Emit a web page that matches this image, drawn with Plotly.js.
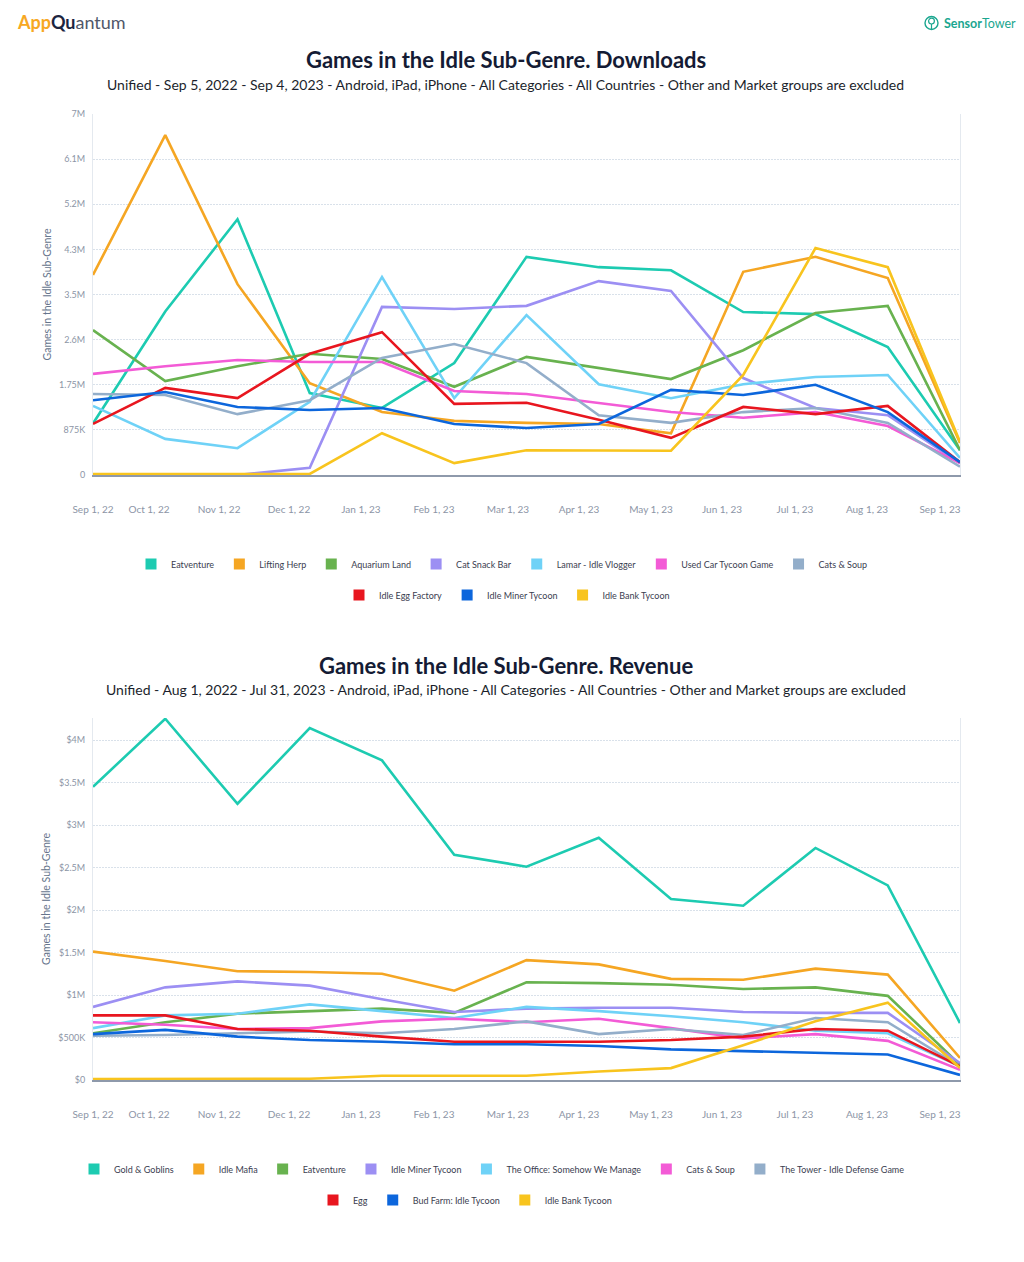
<!DOCTYPE html>
<html>
<head>
<meta charset="utf-8">
<script src="https://cdn.plot.ly/plotly-3.0.1.min.js"></script>
<style>
  html, body { margin: 0; padding: 0; background: #ffffff; }
  #chart { width: 1024px; height: 1262px; }
</style>
</head>
<body>
<div id="chart"></div>
<script>
// ---------- DATA ----------
const dateLabels = ['Sep 1, 22','Oct 1, 22','Nov 1, 22','Dec 1, 22','Jan 1, 23','Feb 1, 23','Mar 1, 23','Apr 1, 23','May 1, 23','Jun 1, 23','Jul 1, 23','Aug 1, 23','Sep 1, 23'];
const pointIndex = [0,1,2,3,4,5,6,7,8,9,10,11,12];

// Downloads (millions)
const dlNames = ['Eatventure','Lifting Herp','Aquarium Land','Cat Snack Bar','Lamar - Idle Vlogger','Used Car Tycoon Game','Cats & Soup','Idle Egg Factory','Idle Miner Tycoon','Idle Bank Tycoon'];
const dlEatventure   = [1.00, 3.17, 4.96, 1.59, 1.30, 2.17, 4.23, 4.03, 3.97, 3.16, 3.12, 2.48, 0.48];
const dlLiftingHerp  = [3.88, 6.59, 3.70, 1.78, 1.22, 1.05, 1.01, 0.99, 0.81, 3.94, 4.23, 3.82, 0.62];
const dlAquarium     = [2.81, 1.82, 2.11, 2.35, 2.25, 1.71, 2.29, 2.07, 1.86, 2.42, 3.14, 3.28, 0.48];
const dlCatSnack     = [0.00, 0.00, 0.00, 0.14, 3.26, 3.22, 3.28, 3.76, 3.57, 1.88, 1.30, 1.16, 0.23];
const dlLamar        = [1.34, 0.70, 0.52, 1.42, 3.84, 1.49, 3.10, 1.76, 1.49, 1.76, 1.90, 1.94, 0.33];
const dlUsedCar      = [1.96, 2.11, 2.23, 2.19, 2.19, 1.63, 1.57, 1.40, 1.22, 1.11, 1.22, 0.95, 0.23];
const dlCatsSoup     = [1.57, 1.55, 1.18, 1.45, 2.27, 2.54, 2.17, 1.16, 1.01, 1.22, 1.30, 1.01, 0.16];
const dlEggFactory   = [0.99, 1.69, 1.49, 2.35, 2.77, 1.38, 1.40, 1.07, 0.72, 1.32, 1.18, 1.34, 0.25];
const dlIdleMiner    = [1.45, 1.61, 1.32, 1.26, 1.30, 0.99, 0.91, 0.99, 1.65, 1.55, 1.75, 1.22, 0.25];
const dlIdleBank     = [0.02, 0.02, 0.02, 0.02, 0.81, 0.23, 0.48, 0.47, 0.47, 1.94, 4.40, 4.03, 0.64];
const dlSeries = [dlEatventure, dlLiftingHerp, dlAquarium, dlCatSnack, dlLamar, dlUsedCar, dlCatsSoup, dlEggFactory, dlIdleMiner, dlIdleBank];
const dlTickText = ['0','875K','1.75M','2.6M','3.5M','4.3M','5.2M','6.1M','7M'];

// Revenue (millions USD)
const revNames = ['Gold & Goblins','Idle Mafia','Eatventure','Idle Miner Tycoon','The Office: Somehow We Manage','Cats & Soup','The Tower - Idle Defense Game','Egg','Bud Farm: Idle Tycoon','Idle Bank Tycoon'];
const revGoldGoblins = [3.45, 4.25, 3.25, 4.14, 3.76, 2.65, 2.51, 2.85, 2.13, 2.05, 2.73, 2.29, 0.67];
const revIdleMafia   = [1.51, 1.40, 1.28, 1.27, 1.25, 1.05, 1.41, 1.36, 1.19, 1.18, 1.31, 1.24, 0.26];
const revEatventure  = [0.55, 0.68, 0.78, 0.81, 0.84, 0.79, 1.15, 1.14, 1.12, 1.07, 1.09, 0.99, 0.18];
const revIdleMiner   = [0.86, 1.09, 1.16, 1.11, 0.95, 0.80, 0.84, 0.85, 0.85, 0.80, 0.79, 0.79, 0.20];
const revTheOffice   = [0.61, 0.76, 0.78, 0.89, 0.81, 0.73, 0.86, 0.81, 0.75, 0.68, 0.58, 0.55, 0.16];
const revCatsSoup    = [0.68, 0.65, 0.60, 0.61, 0.69, 0.72, 0.68, 0.72, 0.61, 0.49, 0.54, 0.46, 0.12];
const revTheTower    = [0.52, 0.53, 0.55, 0.57, 0.55, 0.60, 0.69, 0.54, 0.60, 0.53, 0.73, 0.68, 0.16];
const revEgg         = [0.76, 0.76, 0.60, 0.58, 0.51, 0.45, 0.45, 0.45, 0.47, 0.51, 0.60, 0.58, 0.16];
const revBudFarm     = [0.54, 0.59, 0.51, 0.47, 0.45, 0.42, 0.42, 0.40, 0.36, 0.34, 0.32, 0.30, 0.06];
const revIdleBank    = [0.01, 0.01, 0.01, 0.015, 0.05, 0.05, 0.05, 0.10, 0.14, 0.41, 0.69, 0.91, 0.14];
const revSeries = [revGoldGoblins, revIdleMafia, revEatventure, revIdleMiner, revTheOffice, revCatsSoup, revTheTower, revEgg, revBudFarm, revIdleBank];
const revTickText = ['$0','$500K','$1M','$1.5M','$2M','$2.5M','$3M','$3.5M','$4M'];

// ---------- STYLE ----------
const palette = ['#1dcbb1','#f5a623','#68b24f','#9c8ff3','#6fd2f7','#f35bd6','#93aeca','#e8161f','#0c66dc','#f8c41e'];
const FONT = 'Lato, "Open Sans", sans-serif';
const W = 1024, H = 1262, ML = 93, MR = 64;
const PX = px => (px - ML) / (W - ML - MR);
const PY = py => 1 - py / H;
const tickPos = [0, 0.775, 1.745, 2.713, 3.709, 4.72, 5.744, 6.727, 7.723, 8.706, 9.716, 10.713, 11.723];

const traces = [];
function addChart(names, series, xa, ya, legRow1, legRow2) {
  series.forEach((vals, i) => {
    traces.push({
      type: 'scatter', mode: 'lines', x: pointIndex, y: vals.map(v => v * 1e6),
      xaxis: xa, yaxis: ya, name: names[i], showlegend: false, hoverinfo: 'skip',
      line: { color: palette[i], width: 2.6, shape: 'linear' }
    });
  });
  names.forEach((n, i) => {
    traces.push({
      type: 'scatter', mode: 'markers', x: [null], y: [null], xaxis: xa, yaxis: ya,
      name: n, legend: i < 7 ? legRow1 : legRow2, showlegend: true, hoverinfo: 'skip',
      marker: { symbol: 'square', size: 11, color: palette[i], line: { width: 0 } }
    });
  });
}
addChart(dlNames, dlSeries, 'x', 'y', 'legend', 'legend2');
addChart(revNames, revSeries, 'x2', 'y2', 'legend3', 'legend4');

const tickFont = { family: FONT, size: 9, color: '#8c95a6' };
function xAxis(anchor) {
  return {
    anchor: anchor, domain: [0, 1], range: [0, 12], tickmode: 'array', tickvals: tickPos, ticktext: dateLabels,
    showgrid: false, zeroline: false, showline: true, linecolor: '#8e99ab', linewidth: 1.5,
    ticks: '', ticklabelstandoff: 24, tickfont: { family: FONT, size: 10, color: '#8c95a6' }, fixedrange: true
  };
}
function yAxis(anchor, dom, range, step, text) {
  return {
    anchor: anchor, domain: dom, range: range, tickmode: 'array',
    tickvals: text.map((t, i) => i * step), ticktext: text,
    showgrid: true, gridcolor: '#d9e1ea', griddash: '2px,1px', gridwidth: 1,
    zeroline: false, showline: true, mirror: true, linecolor: '#e4e9ef', linewidth: 1,
    ticks: '', ticklabelstandoff: 5, tickfont: tickFont, fixedrange: true, automargin: false,
    title: { text: 'Games in the Idle Sub-Genre', font: { family: FONT, size: 10.5, color: '#66758c' }, standoff: 5 }
  };
}

const legendBase = (xpx, ypx) => ({
  orientation: 'h', x: PX(xpx), xanchor: 'center', y: PY(ypx), yanchor: 'middle',
  font: { family: FONT, size: 9, color: '#3b4050' }, bgcolor: 'rgba(0,0,0,0)',
  itemclick: false, itemdoubleclick: false, tracegroupgap: 0
});

const titleFont = { family: FONT, size: 22, color: '#141b34' };
const subFont = { family: FONT, size: 14, color: '#1b1f2c' };
const ann = (xpx, ypx, text, font, xanchor) => ({
  xref: 'paper', yref: 'paper', x: PX(xpx), y: PY(ypx), text: text, showarrow: false,
  xanchor: xanchor || 'center', yanchor: 'middle', font: font
});

const layout = {
  width: W, height: H, margin: { l: ML, r: MR, t: 0, b: 0, pad: 0 },
  paper_bgcolor: '#ffffff', plot_bgcolor: '#ffffff', hovermode: false,
  xaxis: xAxis('y'),
  yaxis: yAxis('x', [PY(475), PY(114)], [0, 7e6], 875000, dlTickText),
  xaxis2: xAxis('y2'),
  yaxis2: yAxis('x2', [PY(1080), PY(718)], [0, 4.259e6], 500000, revTickText),
  legend: legendBase(502, 564),
  legend2: legendBase(507, 595),
  legend3: legendBase(492, 1169),
  legend4: legendBase(465, 1200),
  annotations: [
    ann(15, 22, '<b><span style="color:#f7a823">App</span><span style="color:#1c2541">Qu</span></b><span style="color:#50586a">antum</span>', { family: FONT, size: 18 }, 'left'),
    ann(942, 23, '<b>Sensor</b>Tower', { family: FONT, size: 12.5, color: '#1aa68f' }, 'left'),
    ann(506, 60, '<b>Games in the Idle Sub-Genre. Downloads</b>', titleFont),
    ann(505, 84, 'Unified - Sep 5, 2022 - Sep 4, 2023 - Android, iPad, iPhone - All Categories - All Countries - Other and Market groups are excluded', subFont),
    ann(506, 665, '<b>Games in the Idle Sub-Genre. Revenue</b>', titleFont),
    ann(506, 689, 'Unified - Aug 1, 2022 - Jul 31, 2023 - Android, iPad, iPhone - All Categories - All Countries - Other and Market groups are excluded', subFont)
  ],
  shapes: [
    { type: 'circle', xref: 'paper', yref: 'paper', x0: PX(925), x1: PX(938), y0: PY(29.5), y1: PY(16.5), line: { color: '#1aa68f', width: 1.4 } },
    { type: 'circle', xref: 'paper', yref: 'paper', x0: PX(928.6), x1: PX(934.4), y0: PY(24), y1: PY(18.2), line: { color: '#1aa68f', width: 1.2 } },
    { type: 'line', xref: 'paper', yref: 'paper', x0: PX(931.5), x1: PX(931.5), y0: PY(24), y1: PY(29), line: { color: '#1aa68f', width: 1.2 } }
  ]
};

Plotly.newPlot('chart', traces, layout, { displayModeBar: false, staticPlot: true });
</script>
</body>
</html>
